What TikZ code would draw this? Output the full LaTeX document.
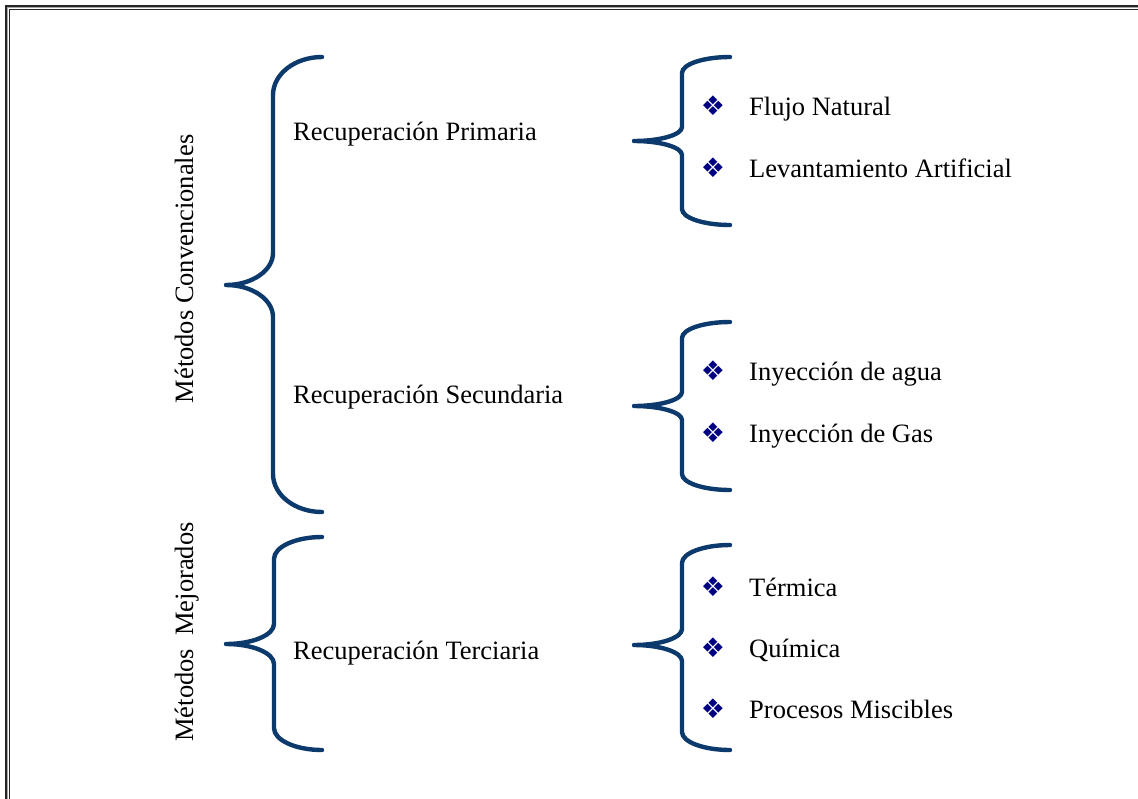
\documentclass[tikz,border=0pt]{standalone}
\usepackage{fontspec}
\setmainfont{Liberation Serif}
\newfontfamily\dejavu{DejaVu Sans}
\definecolor{bracecol}{RGB}{12,58,108}
\definecolor{bulletcol}{RGB}{0,0,128}
\newcommand\mybrace[9]{%
  % #1 xe, #2 yt, #3 xv, #4 xt, #5 ym, #6 yb, #7 r1, #8 r2, #9 name
  \pgfmathsetmacro\bxa{#1-0.552*(#1-#3)}%
  \pgfmathsetmacro\bya{#2+#7-0.552*#7}%
  \pgfmathsetmacro\byb{#2+#7}%
  \pgfmathsetmacro\byc{#5-#8}%
  \pgfmathsetmacro\byd{#5-#8+0.552*#8}%
  \pgfmathsetmacro\bxe{#4+0.552*(#3-#4)}%
  \pgfmathsetmacro\byf{#5+#8-0.552*#8}%
  \pgfmathsetmacro\byg{#5+#8}%
  \pgfmathsetmacro\byh{#6-#7}%
  \pgfmathsetmacro\byi{#6-#7+0.552*#7}%
  \coordinate (#9-top) at (#1,#2);
  \coordinate (#9-tip) at (#4,#5);
  \coordinate (#9-bot) at (#1,#6);
  \draw[bracestyle] (#9-top) .. controls (\bxa,#2) and (#3,\bya) .. (#3,\byb)
    -- (#3,\byc) .. controls (#3,\byd) and (\bxe,#5) .. (#9-tip)
    .. controls (\bxe,#5) and (#3,\byf) .. (#3,\byg)
    -- (#3,\byh) .. controls (#3,\byi) and (\bxa,#6) .. (#9-bot);
}
\tikzset{
  bracestyle/.style={draw=bracecol, line width=4.4pt, line cap=round, line join=round},
  lbl/.style={anchor=base west, inner sep=0pt, font=\fontsize{26.5}{30}\selectfont},
  vlbl/.style={anchor=base, rotate=90, inner sep=0pt, font=\fontsize{26.5}{30}\selectfont},
  bul/.style={anchor=center, inner sep=0pt, text=bulletcol, font=\dejavu\fontsize{27}{27}\selectfont},
}
\begin{document}
\begin{tikzpicture}[x=1pt,y=-1pt]
\useasboundingbox (0,0) rectangle (1138,798);
% frame
\fill[white] (0,0) rectangle (1138,798);
\draw[line width=1.6pt, black!85] (6,6) rectangle (1150,810);
\draw[line width=1.2pt, black!35] (7.7,7.7) rectangle (1150,810);
\draw[line width=1pt, black!85] (9.5,9.5) rectangle (1150,810);
% braces
\mybrace{322}{57}{273}{226}{285}{512}{38}{32}{b1}
\mybrace{322}{537}{274}{226}{644}{750}{22}{20}{b2}
\mybrace{730}{57}{682}{634}{141}{225}{16}{14}{s1}
\mybrace{730}{322}{682}{634}{406}{490}{16}{14}{s2}
\mybrace{730}{545}{682}{634}{645}{750}{18}{16}{s3}
% vertical labels
\node[vlbl] (conv) at (193,269) {Métodos Convencionales};
\node[vlbl] (mej) at (193,632) {Métodos\ \ Mejorados};
% middle labels
\node[lbl] (prim) at (293,140) {Recuperación Primaria};
\node[lbl] (sec) at (293,403) {Recuperación Secundaria};
\node[lbl] (ter) at (293,659) {Recuperación Terciaria};
% right items
\node[lbl] (i1) at (749,115) {Flujo Natural};
\node[lbl] (i2) at (749,177) {Levantamiento Artificial};
\node[lbl] (i3) at (749,380) {Inyección de agua};
\node[lbl] (i4) at (749,442) {Inyección de Gas};
\node[lbl] (i5) at (749,596) {Térmica};
\node[lbl] (i6) at (749,657) {Química};
\node[lbl] (i7) at (749,718) {Procesos Miscibles};
% bullets
\node[bul] (d1) at (713,106) {❖};
\node[bul] (d2) at (713,168) {❖};
\node[bul] (d3) at (713,371) {❖};
\node[bul] (d4) at (713,433) {❖};
\node[bul] (d5) at (713,587) {❖};
\node[bul] (d6) at (713,648) {❖};
\node[bul] (d7) at (713,709) {❖};
\end{tikzpicture}
\end{document}
